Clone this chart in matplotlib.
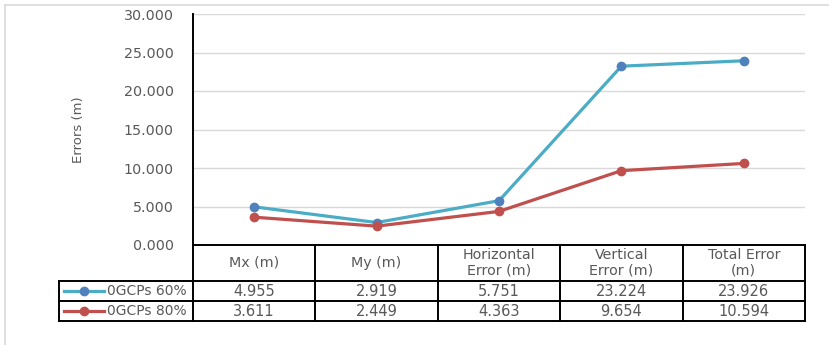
import matplotlib.pyplot as plt
from matplotlib.lines import Line2D

# data
categories = ['Mx (m)', 'My (m)', 'Horizontal\nError (m)', 'Vertical\nError (m)', 'Total Error\n(m)']
series_names = ['0GCPs 60%', '0GCPs 80%']
gcp60 = [4.955, 2.919, 5.751, 23.224, 23.926]
gcp80 = [3.611, 2.449, 4.363, 9.654, 10.594]
yticks = [0, 5, 10, 15, 20, 25, 30]

line_colors = ['#4BACC6', '#C0504D']
marker_colors = ['#4F81BD', '#C0504D']
text_gray = '#595959'

W, H = 835, 345
fig = plt.figure(figsize=(W / 100, H / 100), dpi=100)

# pixel layout
plot_left, plot_right = 193, 805
plot_top, plot_bottom = 14, 245
legend_left = 59
row_bottoms = [281, 301, 321]

ax = fig.add_axes([plot_left / W, 1 - plot_bottom / H,
                   (plot_right - plot_left) / W, (plot_bottom - plot_top) / H])
x = list(range(len(categories)))
for vals, lc, mc in zip([gcp60, gcp80], line_colors, marker_colors):
    ax.plot(x, vals, color=lc, lw=2.3, marker='o', ms=6,
            markerfacecolor=mc, markeredgecolor=mc, solid_capstyle='round')

ax.set_xlim(-0.5, len(categories) - 0.5)
ax.set_ylim(0, 30)
ax.set_yticks(yticks)
ax.set_yticklabels([f'{v:.3f}' for v in yticks], color=text_gray, fontsize=10.3)
ax.set_xticks([])
ax.tick_params(axis='y', length=0, pad=14)
ax.grid(axis='y', color='#D9D9D9', lw=1)
ax.set_axisbelow(True)
for s in ['top', 'right', 'bottom', 'left']:
    ax.spines[s].set_visible(False)
ax.set_ylabel('Errors (m)', color=text_gray, fontsize=9.5, labelpad=28)

# table drawn on an overlay in pixel coordinates
tab = fig.add_axes([0, 0, 1, 1])
tab.set_xlim(0, W)
tab.set_ylim(H, 0)
tab.axis('off')
k = dict(color='black', lw=1.4, solid_capstyle='projecting')

n = len(categories)
cw = (plot_right - plot_left) / n
edges = [plot_left + i * cw for i in range(n + 1)]

# frame around the whole picture
tab.plot([5, 5], [5, H], color='#D9D9D9', lw=1.2)
tab.plot([5, 828], [5, 5], color='#D9D9D9', lw=1.2)

# axis line and table lines
tab.plot([plot_left, plot_left], [plot_top, row_bottoms[-1]], **k)
tab.plot([plot_left, plot_right], [plot_bottom, plot_bottom], **k)
for yb in row_bottoms:
    tab.plot([legend_left, plot_right], [yb, yb], **k)
tab.plot([legend_left, legend_left], [row_bottoms[0], row_bottoms[-1]], **k)
for e in edges[1:]:
    tab.plot([e, e], [plot_bottom, row_bottoms[-1]], **k)

# header texts
for i, c in enumerate(categories):
    cx = (edges[i] + edges[i + 1]) / 2
    tab.text(cx, (plot_bottom + row_bottoms[0]) / 2, c, ha='center', va='center',
             color=text_gray, fontsize=10.3, linespacing=1.15)

# data rows
rows = [gcp60, gcp80]
tops = [row_bottoms[0], row_bottoms[1]]
for r, (vals, name, lc, mc) in enumerate(zip(rows, series_names, line_colors, marker_colors)):
    cy = (tops[r] + row_bottoms[r + 1]) / 2
    tab.add_line(Line2D([64, 104], [cy, cy], color=lc, lw=2.3))
    tab.plot([84], [cy], marker='o', ms=6, color=mc)
    tab.text(107, cy, name, ha='left', va='center', color=text_gray, fontsize=10)
    for i, v in enumerate(vals):
        cx = (edges[i] + edges[i + 1]) / 2
        tab.text(cx, cy, f'{v:.3f}', ha='center', va='center',
                 color=text_gray, fontsize=10.5)

fig.savefig('out.png', dpi=100)
